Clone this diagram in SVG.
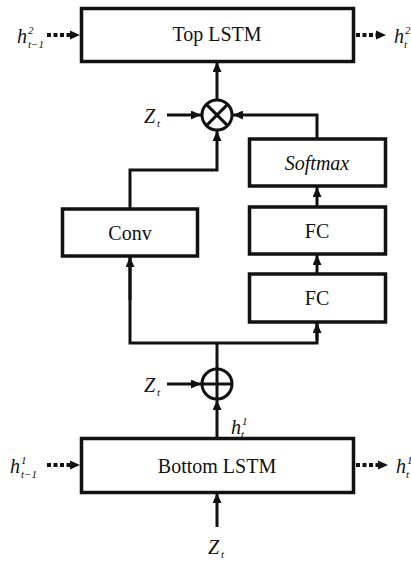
<svg xmlns="http://www.w3.org/2000/svg" width="411" height="562" viewBox="0 0 411 562">
<style>
.box{fill:#fff;stroke:#111;stroke-width:3.5}
.ln{fill:none;stroke:#111;stroke-width:3}
.dot{fill:none;stroke:#111;stroke-width:4;stroke-dasharray:4 2.5}
.lbl{font-family:"Liberation Serif","Times New Roman",serif;font-size:20px;fill:#111;text-anchor:middle}
.it{font-style:italic}
.m{font-family:"Liberation Serif","Times New Roman",serif;font-style:italic;font-size:20px;fill:#111}
.s{font-family:"Liberation Serif","Times New Roman",serif;font-style:italic;font-size:11px;fill:#111}
.op{fill:#fff;stroke:#111;stroke-width:3}
</style>
<defs>
<marker id="ah" markerUnits="userSpaceOnUse" markerWidth="10" markerHeight="9" refX="10" refY="4.5" orient="auto">
<path d="M0,0 L10,4.5 L0,9 z" fill="#111"/>
</marker>
</defs>
<rect width="411" height="562" fill="#fff"/>

<g id="connectors">
<line class="dot" x1="47" y1="35" x2="72" y2="35"/>
<path d="M70,30.5 L80,35 L70,39.5 z" fill="#111"/>
<line class="dot" x1="356" y1="35" x2="378" y2="35"/>
<path d="M376,30.5 L386,35 L376,39.5 z" fill="#111"/>
<line class="dot" x1="47" y1="465" x2="72" y2="465"/>
<path d="M70,460.5 L80,465 L70,469.5 z" fill="#111"/>
<line class="dot" x1="356" y1="465" x2="380" y2="465"/>
<path d="M378,460.5 L388,465 L378,469.5 z" fill="#111"/>
<line class="ln" x1="217" y1="100" x2="217" y2="62" marker-end="url(#ah)"/>
<line class="ln" x1="167" y1="115" x2="201" y2="115" marker-end="url(#ah)"/>
<polyline class="ln" points="317,139 317,115 233,115" marker-end="url(#ah)"/>
<polyline class="ln" points="130,209 130,170 217,170 217,131" marker-end="url(#ah)"/>
<line class="ln" x1="317" y1="207" x2="317" y2="187" marker-end="url(#ah)"/>
<line class="ln" x1="317" y1="274" x2="317" y2="255" marker-end="url(#ah)"/>
<line class="ln" x1="217" y1="369" x2="217" y2="343"/>
<polyline class="ln" points="130,256 130,343 317,343 317,322"/>
<line class="ln" x1="130" y1="300" x2="130" y2="257" marker-end="url(#ah)"/>
<line class="ln" x1="317" y1="340" x2="317" y2="323" marker-end="url(#ah)"/>
<line class="ln" x1="167" y1="384" x2="201" y2="384" marker-end="url(#ah)"/>
<line class="ln" x1="217" y1="438" x2="217" y2="400" marker-end="url(#ah)"/>
<line class="ln" x1="217" y1="527" x2="217" y2="493" marker-end="url(#ah)"/>
</g>

<g id="top-lstm">
<rect class="box" x="81.5" y="8.5" width="272" height="53"/>
<text class="lbl" x="217" y="41">Top LSTM</text>
</g>

<g id="mult">
<circle class="op" cx="217" cy="115" r="15"/>
<line class="ln" x1="206.4" y1="104.4" x2="227.6" y2="125.6"/>
<line class="ln" x1="227.6" y1="104.4" x2="206.4" y2="125.6"/>
</g>

<g id="softmax">
<rect class="box" x="249.5" y="139" width="136" height="47"/>
<text class="lbl it" x="317" y="170">Softmax</text>
</g>

<g id="conv">
<rect class="box" x="62.5" y="209" width="135" height="47"/>
<text class="lbl" x="130" y="240">Conv</text>
</g>

<g id="fc1">
<rect class="box" x="249.5" y="207" width="136" height="47"/>
<text class="lbl" x="317" y="238">FC</text>
</g>

<g id="fc2">
<rect class="box" x="249.5" y="274" width="136" height="48"/>
<text class="lbl" x="317" y="305">FC</text>
</g>

<g id="add">
<circle class="op" cx="217" cy="384" r="15"/>
<line class="ln" x1="202" y1="384" x2="232" y2="384"/>
<line class="ln" x1="217" y1="369" x2="217" y2="399"/>
</g>

<g id="bottom-lstm">
<rect class="box" x="81.5" y="438.5" width="272" height="54"/>
<text class="lbl" x="217" y="473">Bottom LSTM</text>
</g>

<g id="labels">
<text class="m" x="17" y="43">h</text><text class="s" x="28" y="34">2</text><text class="s" x="28" y="48">t−1</text>
<text class="m" x="394" y="43">h</text><text class="s" x="405" y="34">2</text><text class="s" x="404" y="48">t</text>
<text class="m" x="144" y="123">Z</text><text class="s" x="157" y="127">t</text>
<text class="m" x="144" y="392">Z</text><text class="s" x="157" y="396">t</text>
<text class="m" x="231" y="434">h</text><text class="s" x="242" y="425">1</text><text class="s" x="241" y="438">t</text>
<text class="m" x="10" y="473">h</text><text class="s" x="21" y="464">1</text><text class="s" x="21" y="478">t−1</text>
<text class="m" x="396" y="473">h</text><text class="s" x="407" y="464">1</text><text class="s" x="406" y="478">t</text>
<text class="m" x="208" y="554">Z</text><text class="s" x="221" y="558">t</text>
</g>
</svg>
